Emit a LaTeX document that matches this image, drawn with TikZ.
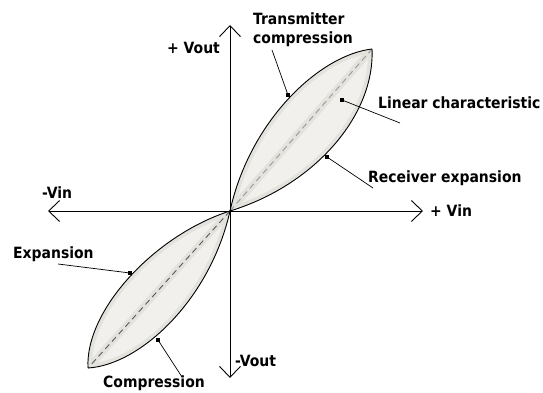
\documentclass[tikz,border=0pt]{standalone}
\usepackage{fontspec}
\setmainfont{DejaVu Sans Condensed}
\usetikzlibrary{arrows.meta}
\definecolor{leaffill}{RGB}{242,240,236}
\definecolor{glow}{RGB}{228,226,220}
\begin{document}
\begin{tikzpicture}[x=1pt,y=-1pt,
  lbl/.style={font=\bfseries\fontsize{15.5}{18}\selectfont, inner sep=0pt, anchor=base west},
  marker/.style={rectangle, fill=black, inner sep=0pt, minimum size=4.5pt},
  axis/.style={line width=0.9pt, {Straight Barb[length=11pt,width=21pt]}-{Straight Barb[length=11pt,width=21pt]}},
  curve/.style={line width=0.9pt},
  leader/.style={line width=0.7pt},
  dash1/.style={dash pattern=on 6pt off 4pt, line width=0.9pt}]
\useasboundingbox (0,0) rectangle (543,393);
\fill[white] (0,0) rectangle (543,393);
% key points
\coordinate (O) at (230,211);
\coordinate (T) at (372,49);
\coordinate (B) at (88,368);
\coordinate (xl) at (48,211);
\coordinate (xr) at (423,211);
\coordinate (yt) at (230,25);
\coordinate (yb) at (230,378);
% upper leaf
\begin{scope}
\clip (O) .. controls (250,120) and (320,55) .. (T) .. controls (375,115) and (315,185) .. (O);
\fill[leaffill] (0,0) rectangle (543,393);
\draw[glow, line width=8pt] (O) .. controls (250,120) and (320,55) .. (T) .. controls (375,115) and (315,185) .. (O);
\draw[glow, line width=7pt] (O) -- (T);
\end{scope}
\draw[black!40, dash1] (O) -- (T);
\draw[curve] (O) .. controls (250,120) and (320,55) .. (T);
\draw[curve] (O) .. controls (315,185) and (375,115) .. (T);
% lower leaf
\begin{scope}
\clip (O) .. controls (155,235) and (85,310) .. (B) .. controls (140,365) and (210,300) .. (O);
\fill[leaffill] (0,0) rectangle (543,393);
\draw[glow, line width=8pt] (O) .. controls (155,235) and (85,310) .. (B) .. controls (140,365) and (210,300) .. (O);
\draw[glow, line width=7pt] (O) -- (B);
\end{scope}
\draw[black!65, dash1] (O) -- (B);
\draw[curve] (O) .. controls (155,235) and (85,310) .. (B);
\draw[curve] (O) .. controls (210,300) and (140,365) .. (B);
% axes
\draw[axis] (xl) -- (xr);
\draw[axis] (yb) -- (yt);
% labels
\node[lbl] (tc1) at (253,25) {Transmitter};
\node[lbl] (tc2) at (253,43.5) {compression};
\node[lbl] (vout) at (167,54) {+ Vout};
\node[lbl] (lin) at (378,109) {Linear characteristic};
\node[lbl] (rec) at (368,182.5) {Receiver expansion};
\node[lbl] (vin) at (430,216.5) {+ Vin};
\node[lbl] (mvin) at (42,198) {-Vin};
\node[lbl] (exp) at (13,258) {Expansion};
\node[lbl] (comp) at (103,387) {Compression};
\node[lbl] (mvout) at (235,366) {-Vout};
% markers
\node[marker] (m1) at (288,95) {};
\node[marker] (m2) at (342,100) {};
\node[marker] (m3) at (327,157) {};
\node[marker] (m4) at (130,273) {};
\node[marker] (m5) at (158,340) {};
% leader ends
\coordinate (e1) at (272,50);
\coordinate (e2) at (400,123);
\coordinate (e3) at (373,188);
\coordinate (e4) at (58,264);
\coordinate (e5) at (182,377);
\draw[leader] (e1) -- (m1.center);
\draw[leader] (m2.center) -- (e2);
\draw[leader] (m3.center) -- (e3);
\draw[leader] (e4) -- (m4.center);
\draw[leader] (m5.center) -- (e5);
\end{tikzpicture}
\end{document}
